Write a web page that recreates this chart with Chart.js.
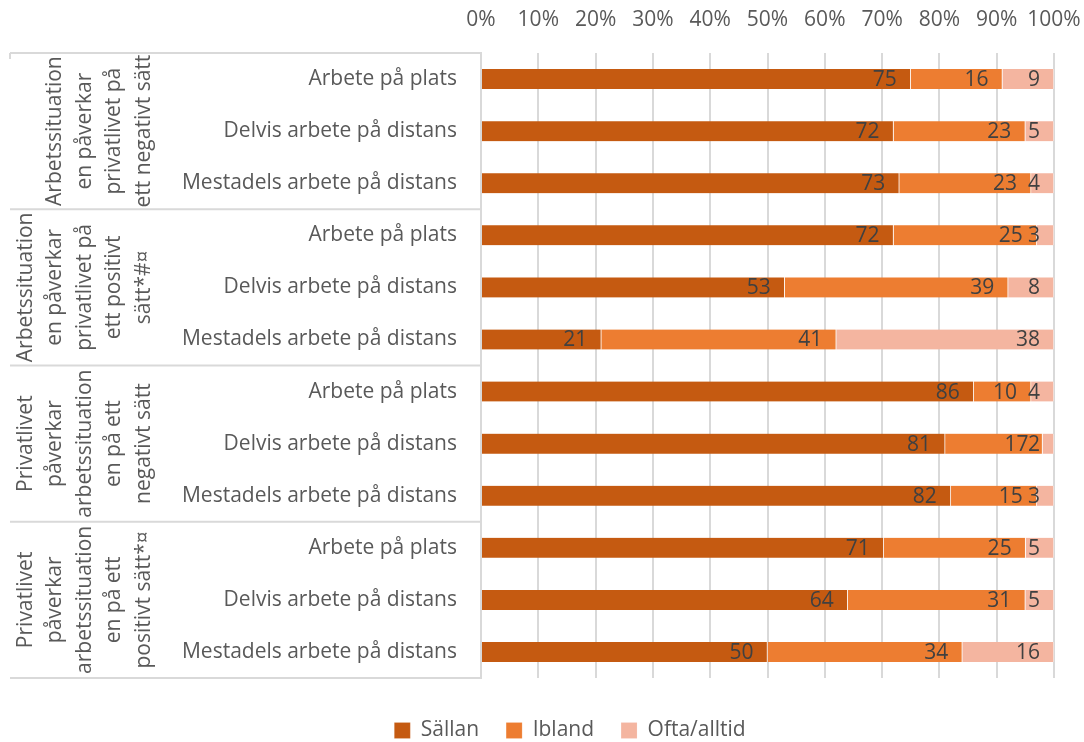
<!DOCTYPE html>
<html>
<head>
<meta charset="utf-8">
<script src="https://cdn.jsdelivr.net/npm/chart.js@4.4.1/dist/chart.umd.min.js"></script>
<style>
  html, body { margin: 0; padding: 0; background: #fff; }
  #wrap { width: 1084px; height: 742px; }
</style>
</head>
<body>
<div id="wrap"><canvas id="chart"></canvas></div>
<script>
// Categories, bottom row text of the multi-level axis
const categories = [
    'Arbete på plats', 'Delvis arbete på distans', 'Mestadels arbete på distans',
    'Arbete på plats', 'Delvis arbete på distans', 'Mestadels arbete på distans',
    'Arbete på plats', 'Delvis arbete på distans', 'Mestadels arbete på distans',
    'Arbete på plats', 'Delvis arbete på distans', 'Mestadels arbete på distans'
];

// Outer group labels (each covers three rows), wrapped as in the original
const groupLabels = [
    ['Arbetssituation', 'en påverkar', 'privatlivet på', 'ett negativt sätt'],
    ['Arbetssituation', 'en påverkar', 'privatlivet på', 'ett positivt', 'sätt*#¤'],
    ['Privatlivet', 'påverkar', 'arbetssituation', 'en på ett', 'negativt sätt'],
    ['Privatlivet', 'påverkar', 'arbetssituation', 'en på ett', 'positivt sätt*¤']
];
const groupSize = 3;

// Series values (percent, as labelled)
const sallan = [75, 72, 73, 72, 53, 21, 86, 81, 82, 71, 64, 50];
const ibland = [16, 23, 23, 25, 39, 41, 10, 17, 15, 25, 31, 34];
const ofta   = [9, 5, 4, 3, 8, 38, 4, 2, 3, 5, 5, 16];

const xTicks = [0, 10, 20, 30, 40, 50, 60, 70, 80, 90, 100];

const FONT = "'Open Sans', sans-serif";
const SIZE = 21;
const TEXT = '#595959';
const GRID = '#D9D9D9';

// 100% stacked, like the original: share of each row's total
function share(series) {
    return series.map((v, i) => v / (sallan[i] + ibland[i] + ofta[i]) * 100);
}

const series = [
    { label: 'Sällan', raw: sallan, color: '#C55A11' },
    { label: 'Ibland', raw: ibland, color: '#ED7D31' },
    { label: 'Ofta/alltid', raw: ofta, color: '#F4B5A0' }
];

// value labels at the inside end of each segment
const valueLabels = {
    id: 'valueLabels',
    afterDatasetsDraw(chart) {
        const ctx = chart.ctx;
        ctx.save();
        ctx.font = SIZE + 'px ' + FONT;
        ctx.fillStyle = '#404040';
        ctx.textAlign = 'right';
        ctx.textBaseline = 'middle';
        chart.data.datasets.forEach((ds, di) => {
            chart.getDatasetMeta(di).data.forEach((bar, i) => {
                ctx.fillText(String(ds.raw[i]), bar.x - 14, bar.y + 1);
            });
        });
        ctx.restore();
    }
};

// outer category column: rotated group names and separator lines
const groupAxis = {
    id: 'groupAxis',
    afterLayout(chart) {
        // legend sits a bit right of the canvas centre in the original
        chart.legend.left += 38;
        chart.legend.right += 38;
    },
    afterDraw(chart) {
        const ctx = chart.ctx;
        const y = chart.scales.y;
        const area = chart.chartArea;
        const bounds = [area.top];
        for (let g = 1; g < groupLabels.length; g++) {
            const i = g * groupSize;
            bounds.push((y.getPixelForValue(i - 1) + y.getPixelForValue(i)) / 2);
        }
        bounds.push(area.bottom);

        ctx.save();
        ctx.strokeStyle = GRID;
        ctx.lineWidth = 2;
        bounds.forEach(b => {
            ctx.beginPath();
            ctx.moveTo(10, b);
            ctx.lineTo(area.left, b);
            ctx.stroke();
        });
        ctx.beginPath();
        ctx.moveTo(10, area.top);
        ctx.lineTo(10, area.top + 6);
        ctx.stroke();

        ctx.font = SIZE + 'px ' + FONT;
        ctx.fillStyle = TEXT;
        ctx.textAlign = 'center';
        ctx.textBaseline = 'middle';
        groupLabels.forEach((lines, g) => {
            const cy = (bounds[g] + bounds[g + 1]) / 2;
            const n = lines.length;
            lines.forEach((line, j) => {
                const cx = 144 - (n - 1 - j) * 29.5;
                ctx.save();
                ctx.translate(cx, cy);
                ctx.rotate(-Math.PI / 2);
                ctx.fillText(line, 0, 0);
                ctx.restore();
            });
        });
        ctx.restore();
    }
};

new Chart(document.getElementById('chart'), {
    type: 'bar',
    data: {
        labels: categories,
        datasets: series.map(s => ({
            label: s.label,
            data: share(s.raw),
            raw: s.raw,
            backgroundColor: s.color,
            borderColor: 'rgba(255,255,255,0.6)',
            borderWidth: { left: 0, right: 1, top: 0, bottom: 0 },
            borderSkipped: false,
            barThickness: 20
        }))
    },
    options: {
        indexAxis: 'y',
        responsive: true,
        maintainAspectRatio: false,
        animation: false,
        layout: { padding: { left: 10, right: 30, top: 0, bottom: -9 } },
        plugins: {
            legend: {
                position: 'bottom',
                labels: {
                    font: { family: FONT, size: SIZE },
                    color: TEXT,
                    boxWidth: 16,
                    boxHeight: 16,
                    padding: 27
                }
            },
            tooltip: { enabled: false }
        },
        scales: {
            x: {
                position: 'top',
                stacked: true,
                min: 0,
                max: 100,
                afterBuildTicks: (scale) => { scale.ticks = xTicks.map(v => ({ value: v })); },
                afterFit: (scale) => {
                    scale.height = 53;
                    scale.paddingLeft = 0;
                    scale.paddingRight = 0;
                },
                ticks: {
                    callback: v => v + '%',
                    font: { family: FONT, size: SIZE },
                    color: TEXT,
                    padding: 20,
                    maxRotation: 0
                },
                grid: { color: GRID, lineWidth: 2, drawTicks: false },
                border: { display: false }
            },
            // empty spacer between plot and legend
            gap: {
                type: 'linear',
                axis: 'x',
                position: 'bottom',
                ticks: { display: false },
                grid: { display: false, drawTicks: false },
                border: { display: false },
                afterFit: (scale) => {
                    scale.height = 15;
                    scale.paddingLeft = 0;
                    scale.paddingRight = 0;
                }
            },
            y: {
                stacked: true,
                afterFit: (scale) => { scale.width = 471; },
                ticks: {
                    font: { family: FONT, size: SIZE },
                    color: TEXT,
                    padding: 24
                },
                grid: { display: false, drawTicks: false },
                border: { display: true, color: GRID, width: 2 }
            }
        }
    },
    plugins: [valueLabels, groupAxis]
});
</script>
</body>
</html>
